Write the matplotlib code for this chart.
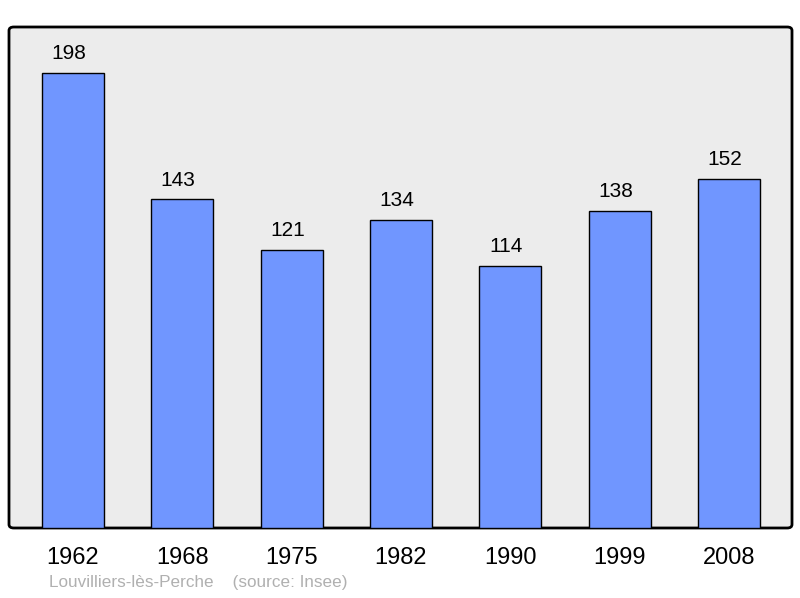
import matplotlib
matplotlib.use('Agg')
import matplotlib.pyplot as plt
from matplotlib.patches import FancyBboxPatch

annees = ['1962', '1968', '1975', '1982', '1990', '1999', '2008']
population = [198, 143, 121, 134, 114, 138, 152]

plt.rcParams['font.family'] = ['Liberation Sans', 'DejaVu Sans']

fig = plt.figure(figsize=(8, 5.98), dpi=100)
ax = fig.add_axes([9/800, 70/598, 783/800, 501/598])
ax.set_facecolor('none')
ax.set_zorder(2)

# fond gris avec coins arrondis
fond = FancyBboxPatch((9/800, 70/598), 783/800, 501/598,
                      boxstyle='round,pad=0,rounding_size=0.006',
                      transform=fig.transFigure, facecolor='#ececec',
                      edgecolor='black', linewidth=2, zorder=0)
fig.patches.append(fond)

x = range(len(annees))
barras = ax.bar(x, population, width=0.567, color='#7096ff',
                edgecolor='black', linewidth=1, zorder=2)

for b, v in zip(barras, population):
    ax.annotate(str(v), (b.get_x() + b.get_width()/2, v),
                xytext=(-3, 7), textcoords='offset points',
                ha='center', va='bottom', fontsize=15)

ax.set_xlim(-0.585, 6.576)
ax.set_ylim(0, 218)
ax.set_xticks(list(x))
ax.set_xticklabels(annees, fontsize=17)
ax.tick_params(axis='x', length=0, pad=14)
ax.set_yticks([])
for s in ax.spines.values():
    s.set_visible(False)

fig.text(49/800, 1 - 583/598, 'Louvilliers-lès-Perche    (source: Insee)',
         fontsize=12.3, color='#b0b0b0', va='center', ha='left')

fig.savefig('out.png', dpi=100)
